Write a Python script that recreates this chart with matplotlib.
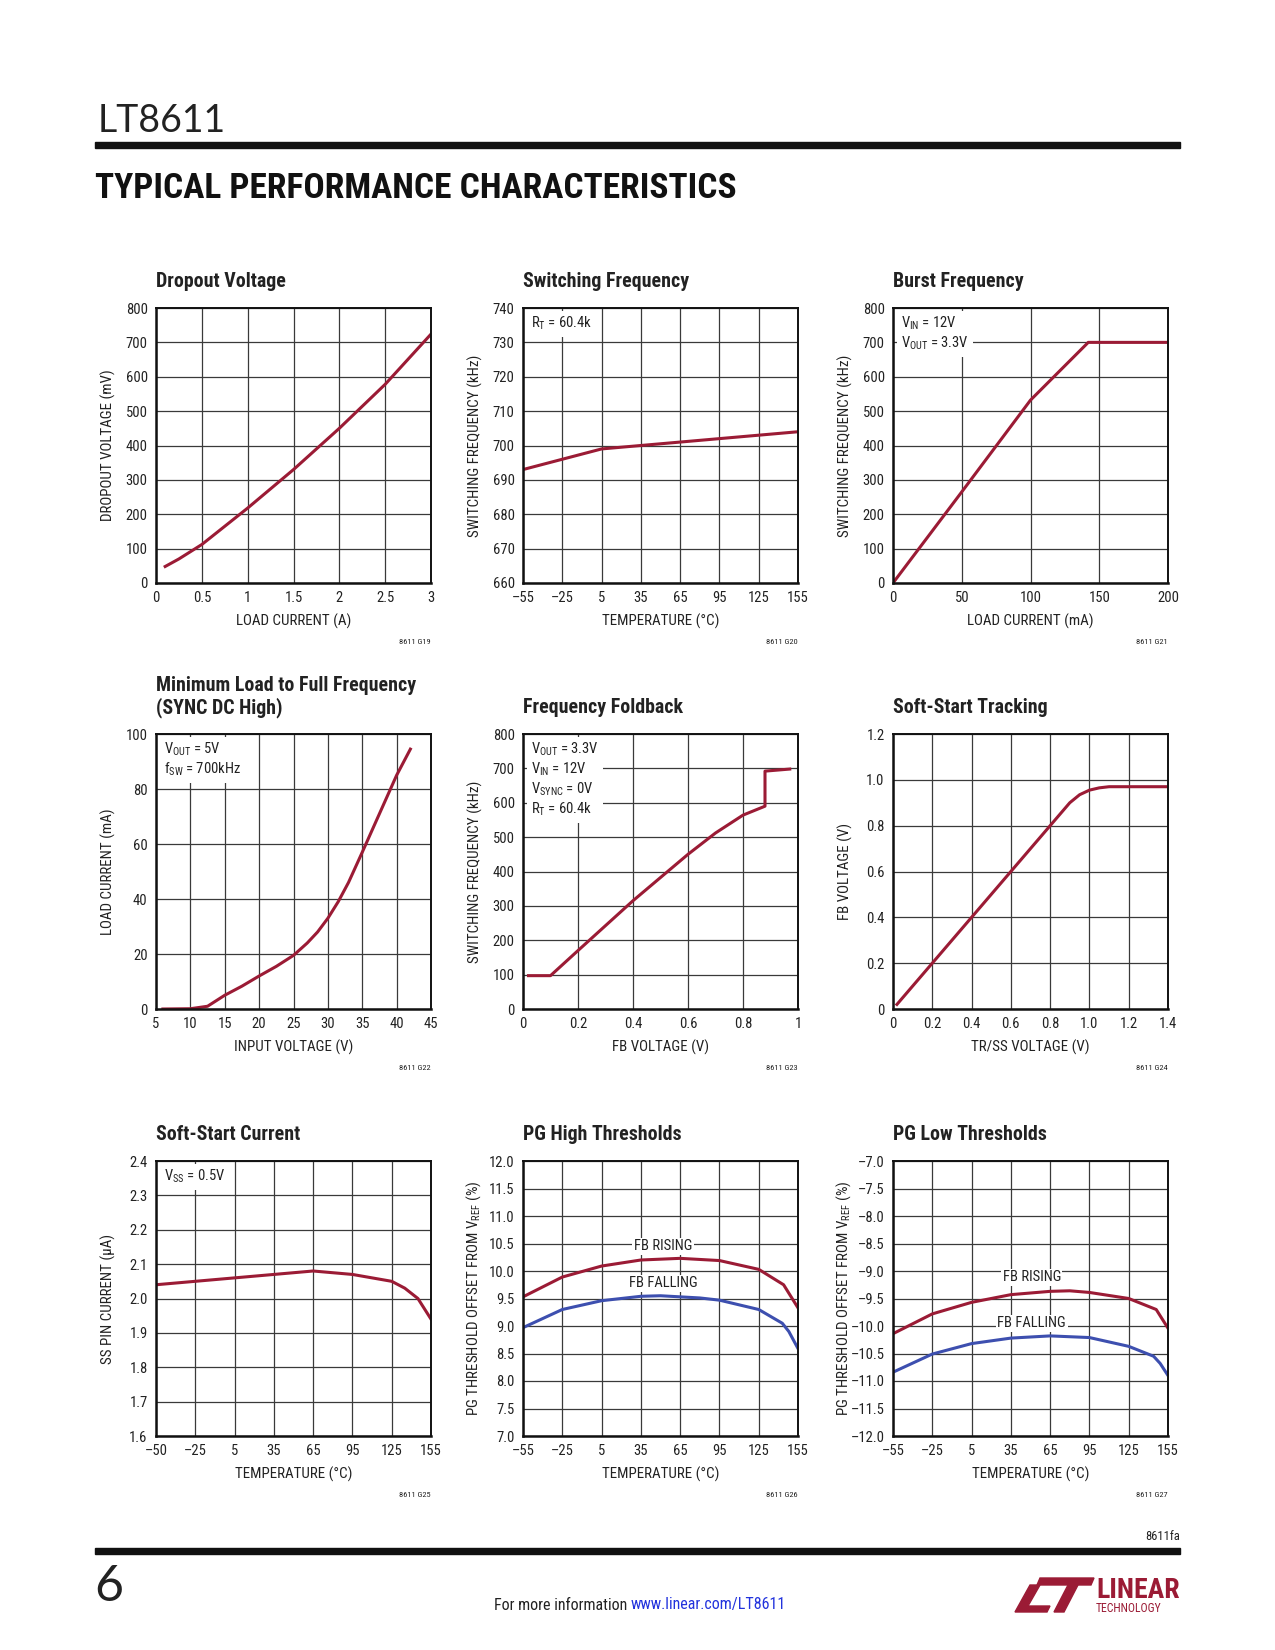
import matplotlib
matplotlib.use('Agg')
import matplotlib.pyplot as plt
from matplotlib import font_manager
from matplotlib.patches import Polygon, Rectangle

names = {f.name for f in font_manager.fontManager.ttflist}


def pick(*cands):
    for c in cands:
        if c in names:
            return c
    return 'DejaVu Sans'


NARROW = pick('Liberation Sans Narrow', 'Roboto Condensed', 'Liberation Sans')
THIN = pick('Lato', 'Open Sans', 'DejaVu Sans')

plt.rcParams['font.family'] = [NARROW, 'DejaVu Sans']
plt.rcParams['mathtext.fontset'] = 'custom'
plt.rcParams['mathtext.rm'] = NARROW
plt.rcParams['mathtext.it'] = NARROW
plt.rcParams['mathtext.default'] = 'rm'

RED = '#9b1b35'
BLUE = '#3d4faf'
DASH = '\u2013'

# ---- data ----
temps = [-55, -25, 5, 35, 65, 95, 125, 155]
temp_labels = [str(t).replace('-', DASH) for t in temps]

drop_i = [0.1, 0.25, 0.5, 1.0, 1.5, 2.0, 2.5, 3.0]
drop_v = [48, 70, 112, 218, 330, 450, 578, 724]

sw_t = [-55, -25, 5, 35, 65, 95, 125, 155]
sw_f = [693, 696, 699, 700, 701, 702, 703, 704]

burst_i = [0, 50, 100, 142, 200]
burst_f = [0, 265, 532, 700, 700]

minload_v = [6, 10, 12.5, 15, 17.5, 20, 22.5, 25, 27, 28.5, 30, 31.5, 33, 35, 37.5, 40, 42]
minload_i = [0, 0.1, 1, 5, 8.3, 12, 15.5, 19.5, 24, 28, 33, 39, 46, 57, 71, 85, 94.5]

fold_v = [0.02, 0.1, 0.2, 0.4, 0.6, 0.7, 0.8, 0.88, 0.88, 0.97]
fold_f = [97, 97, 170, 315, 450, 512, 564, 590, 692, 698]

track_ss = [0.02, 0.2, 0.4, 0.6, 0.8, 0.9, 0.95, 1.0, 1.05, 1.1, 1.4]
track_fb = [0.02, 0.2, 0.4, 0.6, 0.8, 0.9, 0.935, 0.955, 0.965, 0.97, 0.97]

ss_t = [-55, -25, 5, 35, 65, 95, 125, 135, 145, 155]
ss_i = [2.04, 2.05, 2.06, 2.07, 2.08, 2.07, 2.05, 2.03, 2.0, 1.94]
ss_labels = ['\u201350', '\u201325', '5', '35', '65', '95', '125', '155']

pgh_t = [-55, -25, 5, 35, 65, 95, 125, 144, 155]
pgh_rise = [9.53, 9.89, 10.09, 10.2, 10.23, 10.19, 10.03, 9.75, 9.33]
pgh_fall_t = [-55, -25, 5, 35, 50, 65, 80, 95, 125, 143, 148, 155]
pgh_fall = [8.97, 9.3, 9.46, 9.54, 9.55, 9.53, 9.51, 9.47, 9.3, 9.05, 8.9, 8.59]

pgl_t = [-55, -25, 5, 35, 65, 80, 95, 125, 146, 155]
pgl_rise = [-10.14, -9.78, -9.57, -9.43, -9.37, -9.36, -9.39, -9.5, -9.7, -10.04]
pgl_fall_t = [-55, -25, 5, 35, 65, 95, 125, 144, 149, 155]
pgl_fall = [-10.84, -10.51, -10.32, -10.22, -10.18, -10.21, -10.37, -10.55, -10.68, -10.9]

W, H = 1275, 1650
fig = plt.figure(figsize=(W / 100, H / 100), dpi=100)

col_left = [156, 523, 893]
row_top = [308, 734, 1161]
SIZE = 275


def new_axes(r, c):
    left, top = col_left[c], row_top[r]
    return fig.add_axes([left / W, 1 - (top + SIZE) / H, SIZE / W, SIZE / H])


def setup(ax, xlim, ylim, xticks, xlabels, yticks, ylabels, xlabel, ylabel, title, code):
    ax.set_xlim(*xlim)
    ax.set_ylim(*ylim)
    ax.set_xticks(xticks, xlabels)
    ax.set_yticks(yticks, ylabels)
    ax.grid(True, color='#3a3a3a', lw=0.9)
    ax.set_axisbelow(True)
    ax.tick_params(length=0, pad=6, labelsize=10.5, colors='#222222')
    for s in ax.spines.values():
        s.set_linewidth(1.4)
        s.set_color('#111111')
    ax.spines['left'].set_linewidth(1.8)
    ax.spines['bottom'].set_linewidth(1.8)
    ax.set_xlabel(xlabel, fontsize=10.8, color='#222222')
    ax.set_ylabel(ylabel, fontsize=10.8, color='#222222')
    ax.xaxis.set_label_coords(0.5, -0.11)
    ax.yaxis.set_label_coords(-0.145, 0.5)
    if '\n' in title:
        ax.text(0, 1.135, title, transform=ax.transAxes, fontsize=14.3,
                weight='bold', va='center', ha='left', linespacing=1.1, color='#222222')
    else:
        ax.text(0, 1.095, title, transform=ax.transAxes, fontsize=14.3,
                weight='bold', va='center', ha='left', color='#222222')
    ax.text(1.0, -0.215, code, transform=ax.transAxes, fontsize=6,
            ha='right', va='center', color='#222222')


def note(ax, txt, x=0.03, y=0.975):
    ax.text(x, y, txt, transform=ax.transAxes, fontsize=10.5, va='top', ha='left',
            linespacing=1.2, color='#222222', zorder=5,
            bbox=dict(facecolor='white', edgecolor='none', pad=3))


def label(ax, x, y, txt):
    ax.text(x, y, txt, fontsize=10.5, ha='center', va='center', color='#222222', zorder=5,
            bbox=dict(facecolor='white', edgecolor='none', pad=1))


# 1 Dropout Voltage
ax = new_axes(0, 0)
setup(ax, (0, 3), (0, 800), [0, 0.5, 1, 1.5, 2, 2.5, 3],
      ['0', '0.5', '1', '1.5', '2', '2.5', '3'],
      range(0, 801, 100), [str(v) for v in range(0, 801, 100)],
      'LOAD CURRENT (A)', 'DROPOUT VOLTAGE (mV)', 'Dropout Voltage', '8611 G19')
ax.plot(drop_i, drop_v, color=RED, lw=2.2)

# 2 Switching Frequency
ax = new_axes(0, 1)
setup(ax, (-55, 155), (660, 740), temps, temp_labels,
      range(660, 741, 10), [str(v) for v in range(660, 741, 10)],
      'TEMPERATURE (\u00b0C)', 'SWITCHING FREQUENCY (kHz)', 'Switching Frequency', '8611 G20')
ax.plot(sw_t, sw_f, color=RED, lw=2.2)
note(ax, r'R$_{\mathrm{T}}$ = 60.4k')

# 3 Burst Frequency
ax = new_axes(0, 2)
setup(ax, (0, 200), (0, 800), [0, 50, 100, 150, 200], ['0', '50', '100', '150', '200'],
      range(0, 801, 100), [str(v) for v in range(0, 801, 100)],
      'LOAD CURRENT (mA)', 'SWITCHING FREQUENCY (kHz)', 'Burst Frequency', '8611 G21')
ax.plot(burst_i, burst_f, color=RED, lw=2.2)
note(ax, 'V$_{\\mathrm{IN}}$ = 12V\nV$_{\\mathrm{OUT}}$ = 3.3V')

# 4 Minimum Load
ax = new_axes(1, 0)
setup(ax, (5, 45), (0, 100), range(5, 46, 5), [str(v) for v in range(5, 46, 5)],
      range(0, 101, 20), [str(v) for v in range(0, 101, 20)],
      'INPUT VOLTAGE (V)', 'LOAD CURRENT (mA)',
      'Minimum Load to Full Frequency\n(SYNC DC High)', '8611 G22')
ax.plot(minload_v, minload_i, color=RED, lw=2.2)
note(ax, 'V$_{\\mathrm{OUT}}$ = 5V\nf$_{\\mathrm{SW}}$ = 700kHz')

# 5 Frequency Foldback
ax = new_axes(1, 1)
setup(ax, (0, 1), (0, 800), [0, 0.2, 0.4, 0.6, 0.8, 1], ['0', '0.2', '0.4', '0.6', '0.8', '1'],
      range(0, 801, 100), [str(v) for v in range(0, 801, 100)],
      'FB VOLTAGE (V)', 'SWITCHING FREQUENCY (kHz)', 'Frequency Foldback', '8611 G23')
ax.plot(fold_v, fold_f, color=RED, lw=2.2)
note(ax, 'V$_{\\mathrm{OUT}}$ = 3.3V\nV$_{\\mathrm{IN}}$ = 12V\n'
         'V$_{\\mathrm{SYNC}}$ = 0V\nR$_{\\mathrm{T}}$ = 60.4k')

# 6 Soft-Start Tracking
ax = new_axes(1, 2)
xt = [0, 0.2, 0.4, 0.6, 0.8, 1.0, 1.2, 1.4]
yt = [0, 0.2, 0.4, 0.6, 0.8, 1.0, 1.2]
setup(ax, (0, 1.4), (0, 1.2), xt, ['0', '0.2', '0.4', '0.6', '0.8', '1.0', '1.2', '1.4'],
      yt, ['0', '0.2', '0.4', '0.6', '0.8', '1.0', '1.2'],
      'TR/SS VOLTAGE (V)', 'FB VOLTAGE (V)', 'Soft-Start Tracking', '8611 G24')
ax.plot(track_ss, track_fb, color=RED, lw=2.2)

# 7 Soft-Start Current
ax = new_axes(2, 0)
yt = [1.6 + 0.1 * i for i in range(9)]
setup(ax, (-55, 155), (1.6, 2.4), temps, ss_labels,
      yt, ['%.1f' % v for v in yt],
      'TEMPERATURE (\u00b0C)', 'SS PIN CURRENT (\u03bcA)', 'Soft-Start Current', '8611 G25')
ax.plot(ss_t, ss_i, color=RED, lw=2.2)
note(ax, 'V$_{\\mathrm{SS}}$ = 0.5V')

# 8 PG High
ax = new_axes(2, 1)
yt = [7 + 0.5 * i for i in range(11)]
setup(ax, (-55, 155), (7, 12), temps, temp_labels,
      yt, ['%.1f' % v for v in yt],
      'TEMPERATURE (\u00b0C)', 'PG THRESHOLD OFFSET FROM V$_{\\mathrm{REF}}$ (%)',
      'PG High Thresholds', '8611 G26')
ax.plot(pgh_t, pgh_rise, color=RED, lw=2.2)
ax.plot(pgh_fall_t, pgh_fall, color=BLUE, lw=2.2)
label(ax, 52, 10.45, 'FB RISING')
label(ax, 52, 9.78, 'FB FALLING')

# 9 PG Low
ax = new_axes(2, 2)
yt = [-12 + 0.5 * i for i in range(11)]
setup(ax, (-55, 155), (-12, -7), temps, temp_labels,
      yt, [('%.1f' % v).replace('-', DASH) for v in yt],
      'TEMPERATURE (\u00b0C)', 'PG THRESHOLD OFFSET FROM V$_{\\mathrm{REF}}$ (%)',
      'PG Low Thresholds', '8611 G27')
ax.plot(pgl_t, pgl_rise, color=RED, lw=2.2)
ax.plot(pgl_fall_t, pgl_fall, color=BLUE, lw=2.2)
label(ax, 51, -9.11, 'FB RISING')
label(ax, 51, -9.95, 'FB FALLING')

# ---- page header / footer ----
fig.text(98 / W, 1 - 121 / H, 'LT8611', fontsize=27, family=THIN, weight='normal',
         va='center', ha='left', color='#222222')
fig.add_artist(Rectangle((95 / W, 1 - 148 / H), 1085 / W, 6 / H,
                         transform=fig.transFigure, color='#111111'))
fig.text(95 / W, 1 - 188 / H, 'TYPICAL PERFORMANCE CHARACTERISTICS', fontsize=25.5,
         weight='bold', va='center', ha='left', color='#111111')

fig.text(1180 / W, 1 - 1537 / H, '8611fa', fontsize=9, ha='right', va='center', color='#222222')
fig.add_artist(Rectangle((95 / W, 1 - 1554 / H), 1085 / W, 6 / H,
                         transform=fig.transFigure, color='#111111'))
fig.text(94 / W, 1 - 1587 / H, '6', fontsize=36, family=THIN, weight='normal',
         va='center', ha='left', color='#222222')
fig.text(627 / W, 1 - 1605 / H, 'For more information', fontsize=11.5,
         ha='right', va='center', color='#222222')
fig.text(631 / W, 1 - 1605 / H, 'www.linear.com/LT8611', fontsize=11.5,
         ha='left', va='center', color='#2233dd')

# logo
logo = [
    [(1040, 1578), (1094, 1578), (1091, 1585), (1037, 1585)],
    [(1068, 1585), (1078, 1585), (1064, 1612), (1054, 1612)],
    [(1030, 1585), (1040, 1585), (1028, 1606), (1050, 1606), (1047, 1612), (1015, 1612)],
]
for pts in logo:
    fig.add_artist(Polygon([(x / W, 1 - y / H) for x, y in pts], closed=True,
                           transform=fig.transFigure, color=RED))
fig.text(1096 / W, 1 - 1590 / H, 'LINEAR', fontsize=20, weight='bold',
         ha='left', va='center', color=RED)
fig.text(1096 / W, 1 - 1608 / H, 'TECHNOLOGY', fontsize=8.5,
         ha='left', va='center', color=RED)

fig.savefig('out.png', dpi=100)
